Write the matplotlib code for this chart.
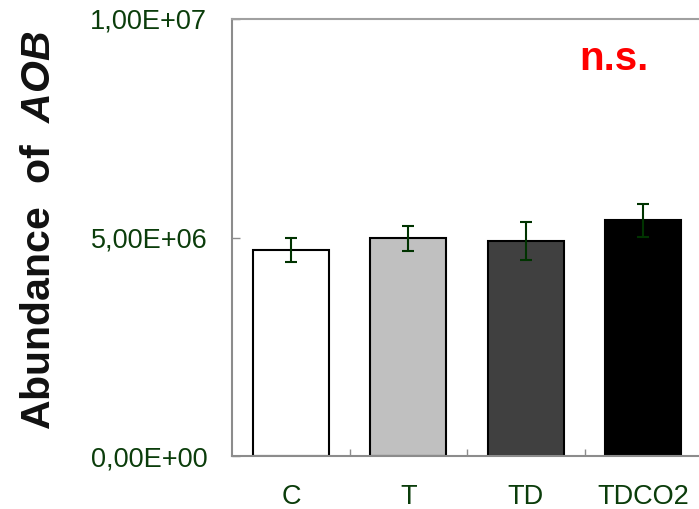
import numpy as np
import matplotlib
matplotlib.use("Agg")
import matplotlib.pyplot as plt
from matplotlib.ticker import FuncFormatter, FixedLocator

plt.rcParams['font.family'] = ['Liberation Sans', 'DejaVu Sans']
plt.rcParams['mathtext.fontset'] = 'custom'
plt.rcParams['mathtext.it'] = 'Liberation Sans:italic:bold'
plt.rcParams['mathtext.rm'] = 'Liberation Sans:bold'

categories = ['C', 'T', 'TD', 'TDCO2']
abundance = [4.71e6, 4.98e6, 4.92e6, 5.39e6]
errors = [0.27e6, 0.29e6, 0.44e6, 0.38e6]
bar_colors = ['white', '#C0C0C0', '#404040', 'black']
yticks = [0, 5e6, 1e7]

green = '#0B3D0B'
gray = '#8C8C8C'

fig = plt.figure(figsize=(6.99, 5.09), dpi=100)
ax = fig.add_axes([232.3/699, 53/509, 469.6/699, 437/509])

x = np.arange(len(categories))
ax.bar(x, abundance, width=0.647, color=bar_colors, edgecolor='black', linewidth=1.5, zorder=2)
ax.errorbar(x, abundance, yerr=errors, fmt='none', ecolor='#003300',
            elinewidth=1.5, capsize=4.5, capthick=1.5, zorder=3)

ax.set_xlim(-0.5, 3.5)
ax.set_ylim(0, 1e7)

ax.set_yticks(yticks)
ax.yaxis.set_major_formatter(FuncFormatter(lambda v, p: f"{v:.2E}".replace('.', ',')))
ax.tick_params(axis='y', direction='in', length=6, width=1, color=gray,
               labelsize=19.5, labelcolor=green, pad=18)

ax.set_xticks(x)
ax.set_xticklabels(categories)
ax.xaxis.set_minor_locator(FixedLocator([0.5, 1.5, 2.5]))
ax.tick_params(axis='x', which='major', length=0, labelsize=19.5, labelcolor=green, pad=20)
ax.tick_params(axis='x', which='minor', direction='in', length=5, width=1, color=gray)

for s in ['left', 'bottom', 'top']:
    ax.spines[s].set_color(gray)
    ax.spines[s].set_linewidth(1.5)
ax.spines['top'].set_color('#A0A0A0')
ax.spines['right'].set_visible(False)

fig.text(39/699, 1 - 230/509, r"Abundance  of  $AOB$", rotation=90,
         ha='center', va='center', fontsize=29.5, fontweight='bold', color='#111111')

fig.text(614/699, 1 - 59/509, "n.s.", ha='center', va='center', fontsize=29,
         fontweight='bold', color='red')

fig.savefig("out.png", dpi=100, facecolor='white')
